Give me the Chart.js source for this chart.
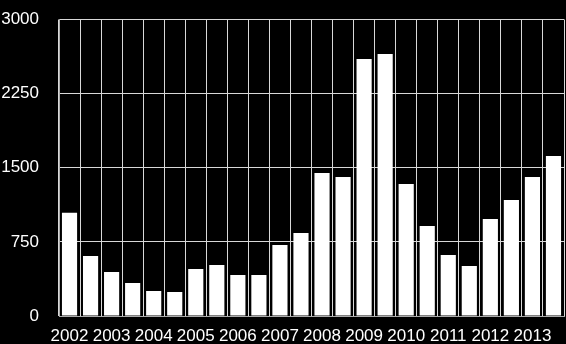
<!DOCTYPE html>
<html>
<head>
<meta charset="utf-8">
<script src="https://cdn.jsdelivr.net/npm/chart.js@4"></script>
<style>
  html, body { margin: 0; padding: 0; background: #000; }
  #wrap { width: 566px; height: 344px; }
</style>
</head>
<body>
<div id="wrap"><canvas id="c"></canvas></div>
<script>
  // half-year buckets, two per year
  const years = ['2002', '2003', '2004', '2005', '2006', '2007', '2008', '2009', '2010', '2011', '2012', '2013'];
  const values = [1045, 607, 445, 334, 253, 243, 476, 516, 415, 415, 718, 840,
                  1447, 1406, 2600, 2651, 1336, 911, 617, 506, 981, 1174, 1406, 1619];
  const yTicks = [0, 750, 1500, 2250, 3000];

  // one category per bar; only the first half of each year carries the label
  const labels = values.map((_, i) => (i % 2 === 0 ? years[i / 2] : ''));

  const font = { family: 'Arial, "Liberation Sans", sans-serif', size: 17 };

  new Chart(document.getElementById('c'), {
    type: 'bar',
    data: {
      labels,
      datasets: [{
        data: values,
        backgroundColor: '#fff',
        borderWidth: 0,
        categoryPercentage: 0.72,
        barPercentage: 1,
      }],
    },
    options: {
      responsive: true,
      maintainAspectRatio: false,
      animation: false,
      layout: { padding: { top: 19.5, right: 2, left: 0, bottom: 0 } },
      plugins: { legend: { display: false }, tooltip: { enabled: false } },
      scales: {
        x: {
          offset: true,
          grid: { color: '#d8d8d8', drawTicks: false, offset: true },
          border: { color: '#aaa' },
          ticks: { color: '#fff', font, autoSkip: false, maxRotation: 0, padding: 10 },
          afterFit: (s) => { s.height = 28; },
        },
        y: {
          min: 0, max: 3000,
          afterBuildTicks: (s) => { s.ticks = yTicks.map(v => ({ value: v })); },
          // invisible tick marks push the labels left; ticks.padding would also grow the top inset
          grid: { color: '#d8d8d8', drawTicks: true, tickLength: 20, tickColor: 'rgba(0,0,0,0)' },
          border: { color: '#aaa' },
          ticks: { color: '#fff', font, padding: 0, callback: (v) => String(v) },
          afterFit: (s) => { s.width = 59; },
        },
      },
    },
  });
</script>
</body>
</html>
